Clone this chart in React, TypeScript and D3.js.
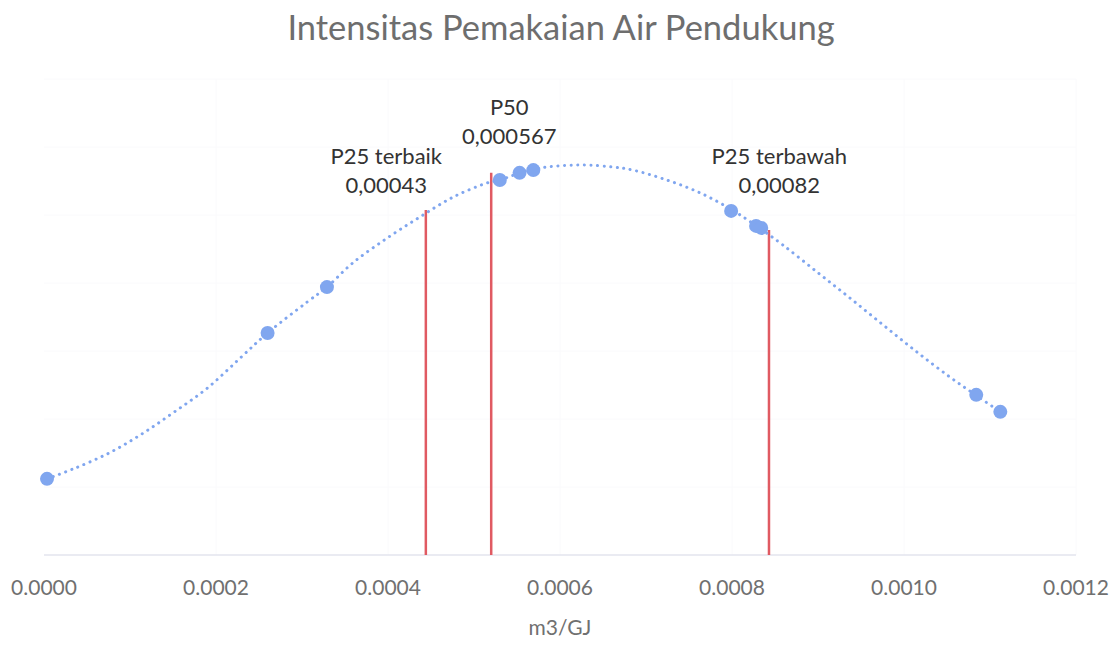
import React from "react";
import * as d3 from "d3";

const W = 1118;
const H = 669;

const titleText = "Intensitas Pemakaian Air Pendukung";
const xAxisLabel = "m3/GJ";
const xTicks = [0, 0.0002, 0.0004, 0.0006, 0.0008, 0.001, 0.0012];
const yGrid = [0, 200, 400, 600, 800, 1000, 1200, 1400];

// sample values (m3/GJ) and normal-density values
const sampleX = [0.0000035, 0.00026, 0.000329, 0.00053, 0.000553, 0.000569, 0.000799, 0.000828, 0.000834, 0.001084, 0.001112];
const sampleY = [224, 653, 788, 1103, 1124, 1132, 1012, 968, 962, 471, 421];

// dotted smooth curve
const trendX = [0.0000035, 0.0000337, 0.0000733, 0.000112, 0.00015, 0.00019, 0.000228, 0.00026, 0.000306, 0.000329, 0.000359, 0.000399, 0.000437, 0.000476, 0.000515, 0.00053, 0.000569, 0.000623, 0.000662, 0.000685, 0.000724, 0.000763, 0.0008, 0.00083, 0.000859, 0.000899, 0.000937, 0.000976, 0.001015, 0.001053, 0.001083, 0.001112];
const trendY = [224, 253, 297, 353, 418, 491, 579, 653, 744, 788, 859, 932, 994, 1053, 1094, 1103, 1135, 1147, 1141, 1132, 1103, 1065, 1015, 965, 912, 832, 756, 676, 597, 524, 471, 421];

// percentile markers
const markerX = [0.000444, 0.00052, 0.000843];
const markerTop = [1015, 1124, 956];
const markerLine1 = ["P25 terbaik", "P50", "P25 terbawah"];
const markerLine2 = ["0,00043", "0,000567", "0,00082"];
const markerLabelX = [0.000398, 0.000541, 0.000855];
const markerLabelY = [1150, 1294, 1150];

const margin = { left: 44, right: 42, top: 79, bottom: 114 };

export default function App() {
  const x = d3.scaleLinear().domain([0, 0.0012]).range([margin.left, W - margin.right]);
  const y = d3.scaleLinear().domain([0, 1400]).range([H - margin.bottom, margin.top]);

  const pts = sampleX.map((v, i) => [v, sampleY[i]] as [number, number]);
  const trend = trendX.map((v, i) => [v, trendY[i]] as [number, number]);
  const line = d3
    .line<[number, number]>()
    .x((d) => x(d[0]))
    .y((d) => y(d[1]))
    .curve(d3.curveCatmullRom.alpha(0.5));

  const font = "Lato, 'Open Sans', sans-serif";
  const blue = "#80a6ef";
  const red = "#e05a62";

  return (
    <svg width={W} height={H} style={{ position: "absolute", left: 0, top: 0, background: "#fff" }}>
      <text x={561} y={40} textAnchor="middle" fontFamily={font} fontSize={34.5} fill="#6e6e6e">
        {titleText}
      </text>
      {yGrid.slice(1).map((g) => (
        <line key={"g" + g} x1={x(0)} x2={x(0.0012)} y1={y(g)} y2={y(g)} stroke="#fafafc" strokeWidth={1} />
      ))}
      {xTicks.slice(1).map((t) => (
        <line key={"v" + t} x1={x(t)} x2={x(t)} y1={y(0)} y2={y(1400)} stroke="#fafafc" strokeWidth={1} />
      ))}
      <line x1={x(0)} x2={x(0.0012)} y1={y(0)} y2={y(0)} stroke="#e3e5ee" strokeWidth={1.5} />
      {xTicks.map((t) => (
        <text key={"t" + t} x={x(t)} y={y(0) + 40} textAnchor="middle" fontFamily={font} fontSize={21} fill="#707070">
          {t.toFixed(4)}
        </text>
      ))}
      <text x={x(0.0006)} y={y(0) + 80} textAnchor="middle" fontFamily={font} fontSize={21} fill="#707070">
        {xAxisLabel}
      </text>
      {markerX.map((m, i) => (
        <line key={"m" + i} x1={x(m)} x2={x(m)} y1={y(0)} y2={y(markerTop[i])} stroke={red} strokeWidth={2.5} />
      ))}
      <path
        d={line(trend) || ""}
        fill="none"
        stroke={blue}
        strokeWidth={3}
        strokeDasharray="0.1 6.5"
        strokeLinecap="round"
      />
      {pts.map((p, i) => (
        <circle key={"p" + i} cx={x(p[0])} cy={y(p[1])} r={7} fill={blue} />
      ))}
      {markerX.map((m, i) => (
        <g key={"l" + i}>
          <text x={x(markerLabelX[i])} y={y(markerLabelY[i])} textAnchor="middle" fontFamily={font} fontSize={22} fill="#333">
            {markerLine1[i]}
          </text>
          <text x={x(markerLabelX[i])} y={y(markerLabelY[i]) + 29} textAnchor="middle" fontFamily={font} fontSize={22} fill="#333">
            {markerLine2[i]}
          </text>
        </g>
      ))}
    </svg>
  );
}
